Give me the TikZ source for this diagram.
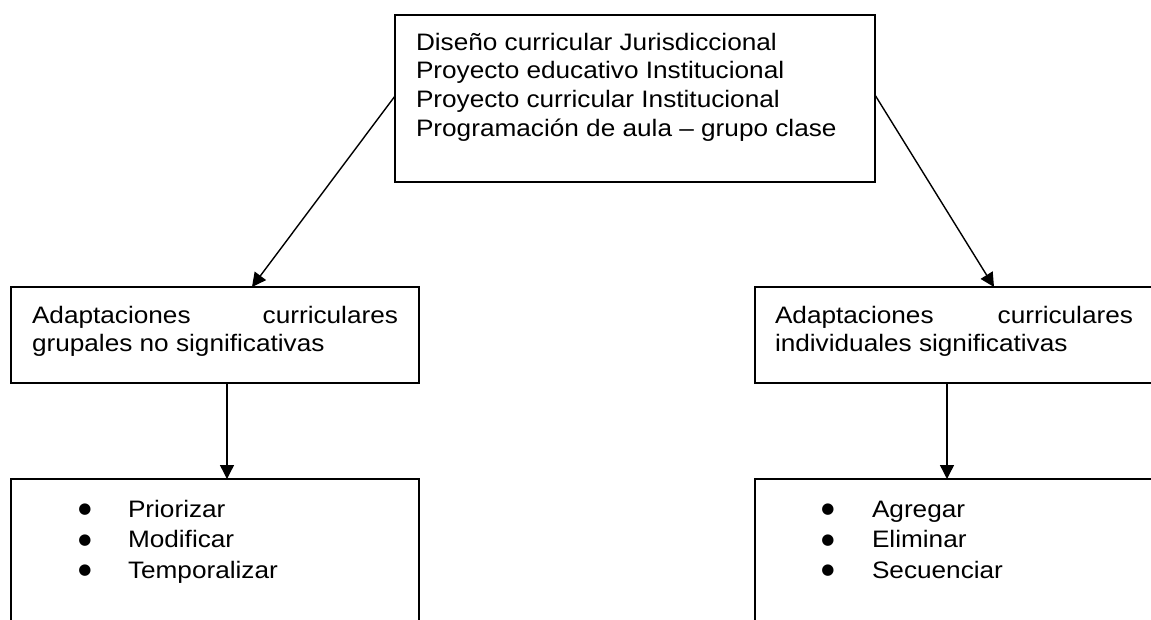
\documentclass[tikz,border=0pt]{standalone}
\usepackage{fontspec}
\setmainfont{Liberation Sans}[FakeStretch=1.1]
\newfontfamily\bulfont{DejaVu Sans}
\usetikzlibrary{arrows.meta}
\newcommand\mybul{\makebox[0pt][c]{\bulfont\fontsize{15}{15}\selectfont\raisebox{3.5pt}{●}}}
\begin{document}
\begin{tikzpicture}[x=1pt,y=-1pt,
  box/.style={draw, line width=1.5pt, rectangle, inner sep=0pt, outer sep=0pt, anchor=north west},
  txt/.style={inner sep=0pt, outer sep=0pt, anchor=north west, align=left, font=\fontsize{23.8}{28.7}\selectfont},
  lst/.style={txt, font=\fontsize{23.8}{30.5}\selectfont},
  arr/.style={line width=1.4pt, -{Triangle[length=14pt,width=14pt]}}]
\useasboundingbox (0,0) rectangle (1151,619);
\clip (0,0) rectangle (1151,619);
\fill[white] (0,0) rectangle (1151,619);
% boxes
\node[box, minimum width=480pt, minimum height=167pt] (top) at (395,15) {};
\node[box, minimum width=408pt, minimum height=96pt] (midL) at (11,287) {};
\node[box, minimum width=400pt, minimum height=96pt] (midR) at (755,287) {};
\node[box, minimum width=408pt, minimum height=200pt] (botL) at (11,479) {};
\node[box, minimum width=400pt, minimum height=200pt] (botR) at (755,479) {};
% texts
\node[txt] (toptext) at (416,30) {\rule{0pt}{20pt}Diseño curricular Jurisdiccional\\Proyecto educativo Institucional\\Proyecto curricular Institucional\\Programación de aula – grupo clase};
\node[txt] (midLtext) at (32,303) {\rule{0pt}{20pt}\hbox to 366pt{Adaptaciones\hfill curriculares}\\grupales no significativas};
\node[txt] (midRtext) at (775,303) {\rule{0pt}{20pt}\hbox to 358pt{Adaptaciones\hfill curriculares}\\individuales significativas};
\node[lst] (botLtext) at (85,497) {\rule{0pt}{20pt}\mybul\hspace{43pt}Priorizar\\\mybul\hspace{43pt}Modificar\\\mybul\hspace{43pt}Temporalizar};
\node[lst] (botRtext) at (828,497) {\rule{0pt}{20pt}\mybul\hspace{44pt}Agregar\\\mybul\hspace{44pt}Eliminar\\\mybul\hspace{44pt}Secuenciar};
% connectors
\draw[arr] ([yshift=2.5pt]top.west) -- ([xshift=241pt]midL.north west);
\draw[arr] ([yshift=3.5pt]top.east) -- ([xshift=239pt]midR.north west);
\draw[arr] ([xshift=216pt]midL.south west) -- ([xshift=216pt]botL.north west);
\draw[arr] ([xshift=192pt]midR.south west) -- ([xshift=192pt]botR.north west);
\end{tikzpicture}
\end{document}
